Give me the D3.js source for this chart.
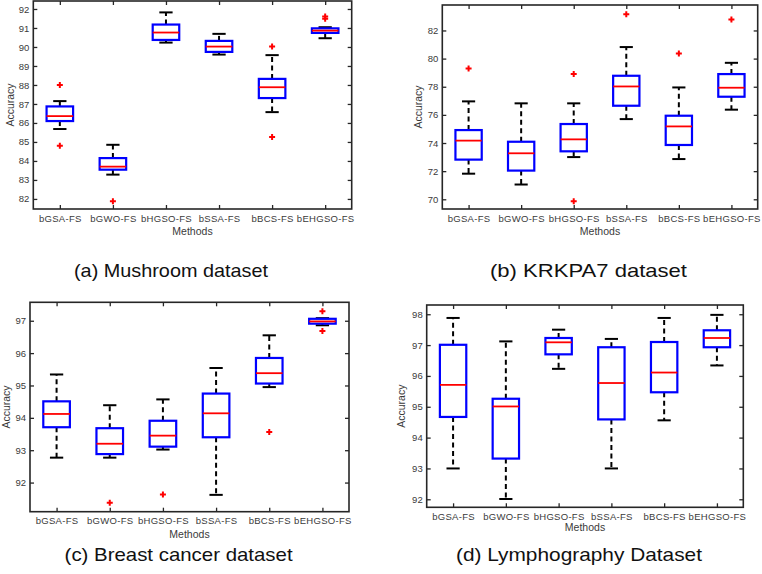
<!DOCTYPE html>
<html>
<head>
<meta charset="utf-8">
<script src="https://cdn.jsdelivr.net/npm/d3@7"></script>
<style>
  html, body { margin: 0; padding: 0; background: #ffffff; }
  svg { display: block; }
  text { font-family: "Liberation Sans", Arial, sans-serif; }
</style>
</head>
<body>
<svg id="chart" width="762" height="574"></svg>
<script>
// ---------------- DATA ----------------
const methods = ["bGSA-FS", "bGWO-FS", "bHGSO-FS", "bSSA-FS", "bBCS-FS", "bEHGSO-FS"];

// each row: [lower whisker, Q1, median, Q3, upper whisker]
const mushroomBoxes = [
  [85.68, 86.10, 86.36, 86.87, 87.15],
  [83.28, 83.54, 83.70, 84.15, 84.85],
  [90.23, 90.37, 90.76, 91.18, 91.82],
  [89.60, 89.74, 90.02, 90.32, 90.69],
  [86.57, 87.31, 87.88, 88.32, 89.57],
  [90.46, 90.74, 90.86, 90.98, 91.04]
];
const mushroomOutliers = [[88.0, 84.8], [81.88], [], [], [90.02, 85.26], [91.6, 91.49]];
const mushroomTicks = [82, 83, 84, 85, 86, 87, 88, 89, 90, 91, 92];

const krkpa7Boxes = [
  [71.82, 72.82, 74.17, 74.92, 76.96],
  [71.05, 72.04, 73.27, 74.09, 76.82],
  [73.00, 73.41, 74.26, 75.35, 76.82],
  [75.70, 76.65, 78.02, 78.78, 80.82],
  [72.86, 73.86, 75.18, 75.94, 77.95],
  [76.37, 77.29, 77.93, 78.90, 79.70]
];
const krkpa7Outliers = [[79.3], [], [78.9, 69.86], [83.16], [80.37], [82.78]];
const krkpa7Ticks = [70, 72, 74, 76, 78, 80, 82];

const breastBoxes = [
  [92.77, 93.71, 94.12, 94.51, 95.34],
  [92.77, 92.88, 93.20, 93.68, 94.39],
  [93.02, 93.11, 93.45, 93.91, 94.57],
  [91.62, 93.40, 94.14, 94.75, 95.54],
  [94.95, 95.06, 95.38, 95.85, 96.55],
  [96.86, 96.91, 96.98, 97.06, 97.08]
];
const breastOutliers = [[], [91.38], [91.63], [], [93.56], [97.29, 96.68]];
const breastTicks = [92, 93, 94, 95, 96, 97];

const lymphBoxes = [
  [93.00, 94.67, 95.71, 97.01, 97.88],
  [92.01, 93.32, 95.01, 95.26, 97.12],
  [96.23, 96.70, 97.09, 97.23, 97.50],
  [93.00, 94.59, 95.77, 96.93, 97.20],
  [94.56, 95.47, 96.11, 97.10, 97.88],
  [96.34, 96.93, 97.23, 97.48, 97.98]
];
const lymphOutliers = [[], [], [], [], [], []];
const lymphTicks = [92, 93, 94, 95, 96, 97, 98];

const captions = ["(a) Mushroom dataset", "(b) KRKPA7  dataset", "(c) Breast cancer dataset", "(d) Lymphography Dataset"];

// ---------------- LAYOUT ----------------
const panels = [
  { boxes: mushroomBoxes, outliers: mushroomOutliers, ticks: mushroomTicks, domain: [81.47, 92.42],
    left: 33.3, top: 1, right: 351.7, bottom: 209, ylabX: 13.5, xlabY: 235,
    cap: captions[0], capX: 171, capY: 277, capW: 194 },
  { boxes: krkpa7Boxes, outliers: krkpa7Outliers, ticks: krkpa7Ticks, domain: [69.31, 83.81],
    left: 442.3, top: 5, right: 757.7, bottom: 209, ylabX: 421.5, xlabY: 235,
    cap: captions[1], capX: 588.5, capY: 277, capW: 197 },
  { boxes: breastBoxes, outliers: breastOutliers, ticks: breastTicks, domain: [91.1, 97.57],
    left: 30, top: 302.3, right: 349, bottom: 511.7, ylabX: 9.5, xlabY: 538,
    cap: captions[2], capX: 178.6, capY: 561, capW: 228 },
  { boxes: lymphBoxes, outliers: lymphOutliers, ticks: lymphTicks, domain: [91.74, 98.3],
    left: 426.7, top: 305, right: 743.3, bottom: 507.3, ylabX: 405, xlabY: 531,
    cap: captions[3], capX: 579, capY: 561, capW: 246 }
];

const svg = d3.select("#chart");
const axisColor = "#262626";
const labelColor = "#3a3a3a";

panels.forEach(p => {
  const x = d3.scaleLinear().domain([0.5, methods.length + 0.5]).range([p.left, p.right]);
  const y = d3.scaleLinear().domain(p.domain).range([p.bottom, p.top]);
  const unit = x(2) - x(1);
  const g = svg.append("g");

  // axes (ticks inward on all four sides)
  const left = g.append("g").attr("transform", `translate(${p.left},0)`)
    .call(d3.axisLeft(y).tickValues(p.ticks).tickSize(-4).tickPadding(4).tickFormat(d3.format("d")));
  const right = g.append("g").attr("transform", `translate(${p.right},0)`)
    .call(d3.axisRight(y).tickValues(p.ticks).tickSize(-4).tickFormat(""));
  const top = g.append("g").attr("transform", `translate(0,${p.top})`)
    .call(d3.axisTop(x).tickValues(d3.range(1, methods.length + 1)).tickSize(-4).tickFormat(""));
  const bottom = g.append("g").attr("transform", `translate(0,${p.bottom})`)
    .call(d3.axisBottom(x).tickValues(d3.range(1, methods.length + 1)).tickSize(-4).tickPadding(6)
      .tickFormat(d => methods[d - 1]));
  [left, right, top, bottom].forEach(a => {
    a.select(".domain").remove();
    a.selectAll(".tick line").attr("stroke", axisColor).attr("stroke-width", 1.3);
    a.selectAll("text").attr("fill", labelColor).style("font-size", "9.5px")
      .style("font-family", "'Liberation Sans', Arial, sans-serif");
  });
  bottom.selectAll("text").style("letter-spacing", "0.3px");

  // frame
  g.append("rect").attr("x", p.left).attr("y", p.top)
    .attr("width", p.right - p.left).attr("height", p.bottom - p.top)
    .attr("fill", "none").attr("stroke", axisColor).attr("stroke-width", 1.6);

  // boxes
  p.boxes.forEach((b, i) => {
    const cx = x(i + 1);
    const hw = unit * 0.25;   // half box width
    const cw = unit * 0.125;  // half cap width
    const bg = g.append("g");
    // whiskers (dashed)
    bg.append("line").attr("x1", cx).attr("x2", cx).attr("y1", y(b[3])).attr("y2", y(b[4]))
      .attr("stroke", "#000").attr("stroke-width", 2).attr("stroke-dasharray", "5,3.5");
    bg.append("line").attr("x1", cx).attr("x2", cx).attr("y1", y(b[1])).attr("y2", y(b[0]))
      .attr("stroke", "#000").attr("stroke-width", 2).attr("stroke-dasharray", "5,3.5");
    // caps
    [b[0], b[4]].forEach(v => {
      bg.append("line").attr("x1", cx - cw).attr("x2", cx + cw).attr("y1", y(v)).attr("y2", y(v))
        .attr("stroke", "#000").attr("stroke-width", 2);
    });
    // box
    bg.append("rect").attr("x", cx - hw).attr("y", y(b[3]))
      .attr("width", 2 * hw).attr("height", y(b[1]) - y(b[3]))
      .attr("fill", "none").attr("stroke", "#0000ff").attr("stroke-width", 2.2);
    // median
    bg.append("line").attr("x1", cx - hw).attr("x2", cx + hw).attr("y1", y(b[2])).attr("y2", y(b[2]))
      .attr("stroke", "#ff0000").attr("stroke-width", 1.8);
    // outliers
    p.outliers[i].forEach(v => {
      const oy = y(v);
      bg.append("path").attr("d", `M${cx - 3},${oy}H${cx + 3}M${cx},${oy - 3}V${oy + 3}`)
        .attr("stroke", "#ff0000").attr("stroke-width", 2).attr("fill", "none");
    });
  });

  // axis titles
  g.append("text").attr("x", (p.left + p.right) / 2).attr("y", p.xlabY)
    .attr("text-anchor", "middle").attr("fill", labelColor).style("font-size", "10.5px").text("Methods");
  g.append("text").attr("transform", `translate(${p.ylabX},${(p.top + p.bottom) / 2}) rotate(-90)`)
    .attr("text-anchor", "middle").attr("fill", labelColor).style("font-size", "10.5px").text("Accuracy");

  // caption
  g.append("text").attr("x", p.capX).attr("y", p.capY).attr("text-anchor", "middle")
    .attr("fill", "#111").style("font-size", "19px")
    .attr("textLength", p.capW).attr("lengthAdjust", "spacingAndGlyphs").text(p.cap);
});
</script>
</body>
</html>
